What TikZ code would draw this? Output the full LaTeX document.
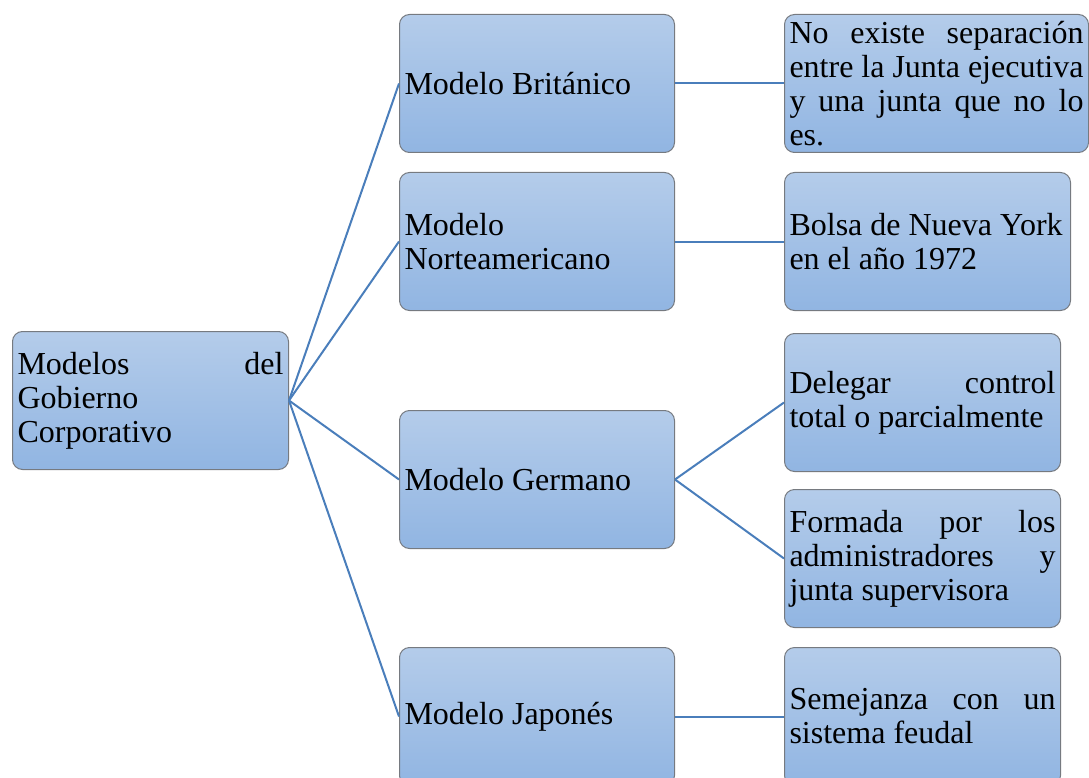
\documentclass[tikz,border=0pt]{standalone}
\usepackage{fontspec}
\setmainfont{Liberation Serif}
\definecolor{boxtop}{RGB}{180,204,234}
\definecolor{boxbot}{RGB}{145,181,226}
\definecolor{boxline}{RGB}{118,122,128}
\definecolor{linkblue}{RGB}{74,126,187}
\tikzset{every picture/.style={x=1pt,y=-1pt},
  box/.style={draw=boxline,line width=1pt,rounded corners=10pt,top color=boxtop,bottom color=boxbot,
    anchor=north west,minimum height=138pt,inner xsep=5pt,inner ysep=0pt,align=justify,
    font=\fontsize{32}{34}\selectfont},
  link/.style={draw=linkblue,line width=2pt}}

\begin{document}
\begin{tikzpicture}
            \useasboundingbox (0,0) rectangle (1089,778);
            \clip (0,0) rectangle (1089,778);

            \node[box,text width=266pt] (gob) at (12,331) {Modelos del\linebreak Gobierno\newline Corporativo};
            \node[box,text width=265pt] (brit) at (399,14) {Modelo Británico};
            \node[box,text width=265pt] (norte) at (399,172) {Modelo\newline Norteamericano};
            \node[box,text width=265pt] (germ) at (399,410) {Modelo Germano};
            \node[box,text width=265pt] (jap) at (399,647) {Modelo Japonés};
            \node[box,text width=294pt] (sep) at (784,14) {No existe separación\linebreak entre la Junta ejecutiva\linebreak y una junta que no lo\linebreak es.};
            \node[box,text width=276pt] (bolsa) at (784,172) {Bolsa de Nueva York\newline en el año 1972};
            \node[box,text width=266pt] (deleg) at (784,333) {Delegar control\linebreak total o parcialmente};
            \node[box,text width=266pt] (form) at (784,489) {Formada por los\linebreak administradores y\linebreak junta supervisora};
            \node[box,text width=266pt] (feud) at (784,647) {Semejanza con un\linebreak sistema feudal};

            \foreach \from/\to in {gob/brit, gob/norte, gob/germ, gob/jap, brit/sep, norte/bolsa, germ/deleg, germ/form, jap/feud}
              \draw[link] (\from.east) -- (\to.west);
        \end{tikzpicture}
\end{document}
